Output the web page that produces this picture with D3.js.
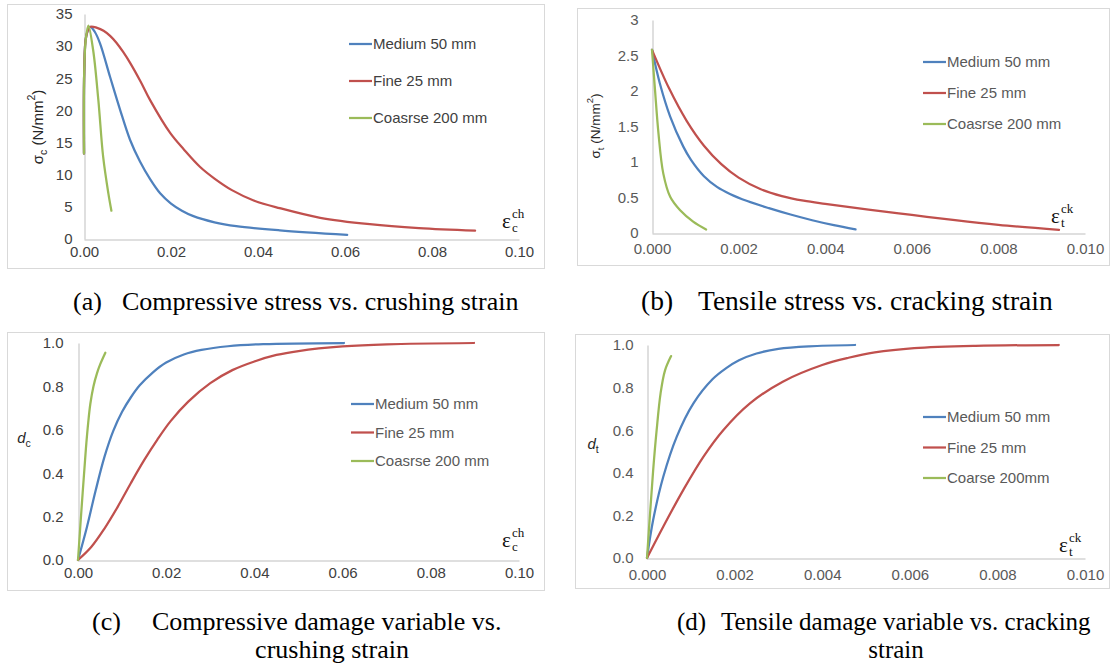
<!DOCTYPE html>
<html>
<head>
<meta charset="utf-8">
<script src="https://cdnjs.cloudflare.com/ajax/libs/d3/7.8.5/d3.min.js"></script>
<style>
  html, body { margin: 0; padding: 0; background: #fff; }
  svg { display: block; }
</style>
</head>
<body>
<svg id="fig" width="1111" height="671"></svg>
<script>
// Series names shown in the legends
const seriesNames = ["Medium 50 mm", "Fine 25 mm", "Coasrse 200 mm"];
const seriesNamesD = ["Medium 50 mm", "Fine 25 mm", "Coarse 200mm"];
const seriesColors = ["#4f81bd", "#c0504d", "#9bbb59"];

// (a) compressive stress [N/mm2] vs crushing strain
const compMedium = [[0,13.3],[0.00005,26],[0.0005,31.5],[0.0014,33],[0.0025,32.2],[0.0037,30.4],[0.006,25.2],[0.0083,20.1],[0.0106,15.4],[0.0129,12.0],[0.0152,9.3],[0.0175,7.1],[0.02,5.5],[0.0225,4.4],[0.025,3.6],[0.03,2.6],[0.035,2.0],[0.045,1.35],[0.0605,0.65]];
const compFine = [[0,13.3],[0.00005,26],[0.0005,31.5],[0.0014,33],[0.003,32.85],[0.0045,32.4],[0.006,31.6],[0.0075,30.5],[0.009,29.1],[0.0106,27.4],[0.013,24.5],[0.0152,21.6],[0.0198,16.5],[0.023,13.9],[0.0267,11.2],[0.03,9.4],[0.034,7.6],[0.039,6.0],[0.045,4.8],[0.0543,3.3],[0.0657,2.3],[0.077,1.7],[0.0899,1.3]];
const compCoarse = [[0,13.3],[0.00005,26],[0.0004,31],[0.001,33.2],[0.0021,29.4],[0.0033,21.6],[0.0044,12.8],[0.0056,7.1],[0.0063,4.4]];

// (b) tensile stress [N/mm2] vs cracking strain
const tensMedium = [[0,2.58],[0.00018,2.11],[0.00042,1.64],[0.00072,1.22],[0.0009,1.03],[0.0012,0.8],[0.0015,0.65],[0.0018,0.55],[0.0022,0.45],[0.0027,0.35],[0.0032,0.26],[0.0037,0.18],[0.0042,0.11],[0.0047,0.05]];
const tensFine = [[0,2.58],[0.0004,2.03],[0.0008,1.58],[0.0012,1.23],[0.0016,0.97],[0.002,0.78],[0.0025,0.62],[0.003,0.52],[0.0035,0.455],[0.004,0.41],[0.005,0.33],[0.006,0.255],[0.007,0.18],[0.008,0.115],[0.0094,0.045]];
const tensCoarse = [[0,2.58],[0.00007,2.01],[0.00015,1.4],[0.00026,0.84],[0.00042,0.51],[0.00065,0.32],[0.00095,0.16],[0.00125,0.05]];

// (c) compressive damage variable vs crushing strain
const dcMedium = [[0,0],[0.002,0.15],[0.004,0.32],[0.006,0.475],[0.008,0.595],[0.01,0.683],[0.012,0.75],[0.014,0.805],[0.017,0.865],[0.02,0.91],[0.024,0.947],[0.028,0.968],[0.034,0.985],[0.042,0.995],[0.0603,1.0]];
const dcFine = [[0,0],[0.003,0.06],[0.006,0.145],[0.009,0.245],[0.012,0.355],[0.015,0.46],[0.018,0.555],[0.021,0.64],[0.025,0.73],[0.03,0.815],[0.035,0.875],[0.04,0.915],[0.045,0.945],[0.05,0.963],[0.06,0.984],[0.07,0.994],[0.0898,1.0]];
const dcCoarse = [[0,0],[0.00083,0.245],[0.0016,0.46],[0.0019,0.54],[0.0023,0.63],[0.0028,0.72],[0.0035,0.8],[0.0043,0.86],[0.005,0.9],[0.0062,0.955]];

// (d) tensile damage variable vs cracking strain
const dtMedium = [[0,0],[0.00014,0.178],[0.00037,0.38],[0.00068,0.57],[0.00106,0.726],[0.0015,0.84],[0.0018,0.89],[0.0021,0.928],[0.0025,0.96],[0.003,0.982],[0.0037,0.994],[0.00475,1.0]];
const dtFine = [[0,0],[0.00037,0.147],[0.00083,0.32],[0.00129,0.476],[0.00174,0.6],[0.00235,0.726],[0.0031,0.828],[0.004,0.906],[0.0046,0.94],[0.0052,0.965],[0.0061,0.985],[0.0075,0.996],[0.0094,1.0]];
const dtCoarse = [[0,0],[0.00007,0.21],[0.00014,0.41],[0.00022,0.6],[0.00031,0.773],[0.00041,0.88],[0.00055,0.948]];

// Tick values
const ticksStrainC = [0, 0.02, 0.04, 0.06, 0.08, 0.10];
const ticksStrainT = [0, 0.002, 0.004, 0.006, 0.008, 0.010];
const ticksStressC = [0, 5, 10, 15, 20, 25, 30, 35];
const ticksStressT = [0, 0.5, 1, 1.5, 2, 2.5, 3];
const ticksDamage = [0, 0.2, 0.4, 0.6, 0.8, 1.0];

const svg = d3.select("#fig");
const SANS = "'Liberation Sans', Arial, sans-serif";
const SERIF = "'Liberation Serif', 'Times New Roman', serif";

const panels = [
  { frame: [7, 4, 544, 268], xr: [84, 519], yr: [239, 14], xd: [0, 0.1], yd: [0, 35],
    xt: ticksStrainC, xf: d3.format(".2f"), yt: ticksStressC, yf: d3.format("d"),
    tickColor: "#404040", xLabOff: 18, yLabOff: 12,
    series: [compMedium, compFine, compCoarse], names: seriesNames,
    legend: { x: 349, y: 44, dy: 37, color: "#404040" },
    yTitle: { x: 37, y: 127, size: 15, sym: "σ", sub: "c", unit: true, color: "#262626" },
    eps: { x: 502, y: 228, sup: "ch", sub: "c" } },
  { frame: [577, 8, 1109, 265], xr: [652, 1085], yr: [233, 20], xd: [0, 0.01], yd: [0, 3],
    xt: ticksStrainT, xf: d3.format(".3f"), yt: ticksStressT, yf: d => String(d),
    tickColor: "#595959", xLabOff: 20.5, yLabOff: 14,
    series: [tensMedium, tensFine, tensCoarse], names: seriesNames,
    legend: { x: 923, y: 62, dy: 31, color: "#595959" },
    yTitle: { x: 595, y: 126, size: 13.5, sym: "σ", sub: "t", unit: true, color: "#262626" },
    eps: { x: 1051, y: 223, sup: "ck", sub: "t" } },
  { frame: [7, 332, 544, 590], xr: [78, 519], yr: [560, 343], xd: [0, 0.1], yd: [0, 1],
    xt: ticksStrainC, xf: d3.format(".2f"), yt: ticksDamage, yf: d3.format(".1f"),
    tickColor: "#404040", xLabOff: 18, yLabOff: 15,
    series: [dcMedium, dcFine, dcCoarse], names: seriesNames,
    legend: { x: 351, y: 404, dy: 28.5, color: "#595959" },
    yTitle: { x: 24, y: 437, size: 15, sym: "d", sub: "c", unit: false, color: "#262626" },
    eps: { x: 502, y: 547, sup: "ch", sub: "c" } },
  { frame: [575, 334, 1109, 588], xr: [647, 1085], yr: [558, 345], xd: [0, 0.01], yd: [0, 1],
    xt: ticksStrainT, xf: d3.format(".3f"), yt: ticksDamage, yf: d3.format(".1f"),
    tickColor: "#595959", xLabOff: 22, yLabOff: 14,
    series: [dtMedium, dtFine, dtCoarse], names: seriesNamesD,
    legend: { x: 923, y: 417, dy: 30.5, color: "#595959" },
    yTitle: { x: 593, y: 443, size: 15, sym: "d", sub: "t", unit: false, color: "#262626" },
    eps: { x: 1059, y: 552, sup: "ck", sub: "t" } }
];

panels.forEach(p => {
  const g = svg.append("g");
  const [fx0, fy0, fx1, fy1] = p.frame;
  g.append("rect")
    .attr("x", fx0 + 0.5).attr("y", fy0 + 0.5)
    .attr("width", fx1 - fx0).attr("height", fy1 - fy0)
    .attr("fill", "#fff").attr("stroke", "#d9d9d9").attr("stroke-width", 1);

  const x = d3.scaleLinear().domain(p.xd).range(p.xr);
  const y = d3.scaleLinear().domain(p.yd).range(p.yr);

  // axes: plain grey lines, no tick marks
  const xAxis = d3.axisBottom(x).tickValues(p.xt).tickFormat(p.xf).tickSize(0).tickPadding(p.xLabOff - 5);
  const yAxis = d3.axisLeft(y).tickValues(p.yt).tickFormat(p.yf).tickSize(0).tickPadding(p.yLabOff);
  const gx = g.append("g").attr("transform", `translate(0,${Math.round(y(0)) + 0.5})`).call(xAxis);
  const gy = g.append("g").attr("transform", `translate(${Math.round(x(0)) + 0.5},0)`).call(yAxis);
  [gx, gy].forEach(a => {
    a.select(".domain").attr("stroke", "#bfbfbf").attr("stroke-width", 1);
    a.selectAll("text").attr("fill", p.tickColor).style("font-family", SANS).style("font-size", "15px");
  });
  gx.selectAll("text").attr("dy", "0.32em");

  // curves
  const line = d3.line().x(d => x(d[0])).y(d => y(d[1])).curve(d3.curveCatmullRom.alpha(0.5));
  p.series.forEach((s, i) => {
    g.append("path").datum(s).attr("d", line)
      .attr("fill", "none").attr("stroke", seriesColors[i])
      .attr("stroke-width", 2.25).attr("stroke-linecap", "round").attr("stroke-linejoin", "round");
  });

  // legend
  p.names.forEach((n, i) => {
    const ly = p.legend.y + i * p.legend.dy;
    g.append("line").attr("x1", p.legend.x).attr("x2", p.legend.x + 23)
      .attr("y1", ly).attr("y2", ly).attr("stroke", seriesColors[i]).attr("stroke-width", 2.25);
    g.append("text").attr("x", p.legend.x + 24).attr("y", ly).attr("dy", "0.35em")
      .attr("fill", p.legend.color).style("font-family", SANS).style("font-size", "15px").text(n);
  });

  // y-axis title
  const yt = p.yTitle;
  const t = g.append("text")
    .attr("fill", yt.color).style("font-family", SANS).style("font-size", yt.size + "px")
    .attr("text-anchor", "middle").attr("dominant-baseline", "central");
  if (yt.unit) {
    t.attr("transform", `translate(${yt.x},${yt.y}) rotate(-90)`);
    t.append("tspan").text(yt.sym);
    t.append("tspan").attr("baseline-shift", "sub").style("font-size", (yt.size * 0.7) + "px").text(yt.sub);
    t.append("tspan").text(yt.size < 14 ? "  (N/mm" : " (N/mm");
    t.append("tspan").attr("baseline-shift", "super").style("font-size", (yt.size * 0.7) + "px").text("2");
    t.append("tspan").text(")");
  } else {
    t.attr("transform", `translate(${yt.x},${yt.y})`);
    t.append("tspan").style("font-style", "italic").text(yt.sym);
    t.append("tspan").attr("baseline-shift", "sub").style("font-size", (yt.size * 0.7) + "px").text(yt.sub);
  }

  // strain symbol at the end of the x axis: ε with stacked super- and subscript
  const e = p.eps;
  const et = g.append("text").attr("x", e.x).attr("y", e.y).attr("fill", "#111")
    .style("font-family", SERIF).style("font-size", "21px");
  et.append("tspan").text("ε");
  et.append("tspan").attr("x", e.x + 10).attr("dy", -10).style("font-size", "13px").text(e.sup);
  et.append("tspan").attr("x", e.x + 10).attr("dy", 14).style("font-size", "13px").text(e.sub);
});

// captions
const captions = [
  { tag: "(a)", tx: 73, x: 122, y: 310, size: 26, lines: ["Compressive stress vs. crushing strain"] },
  { tag: "(b)", tx: 641, x: 698, y: 310, size: 27.5, lines: ["Tensile stress vs. cracking strain"] },
  { tag: "(c)", tx: 92, x: 152, y: 630, size: 26, lines: ["Compressive damage variable vs.", "crushing strain"], cx: 332 },
  { tag: "(d)", tx: 677, x: 721, y: 630, size: 25, lines: ["Tensile damage variable vs. cracking", "strain"], cx: 896 }
];
captions.forEach(c => {
  const style = s => s.attr("fill", "#000").style("font-family", SERIF).style("font-size", c.size + "px");
  const ct = svg.append("text").attr("y", c.y).call(style);
  ct.append("tspan").attr("x", c.tx).text(c.tag);
  ct.append("tspan").attr("x", c.x).text(c.lines[0]);
  if (c.lines[1]) {
    svg.append("text").attr("x", c.cx).attr("y", c.y + 28).attr("text-anchor", "middle").call(style).text(c.lines[1]);
  }
});
</script>
</body>
</html>
